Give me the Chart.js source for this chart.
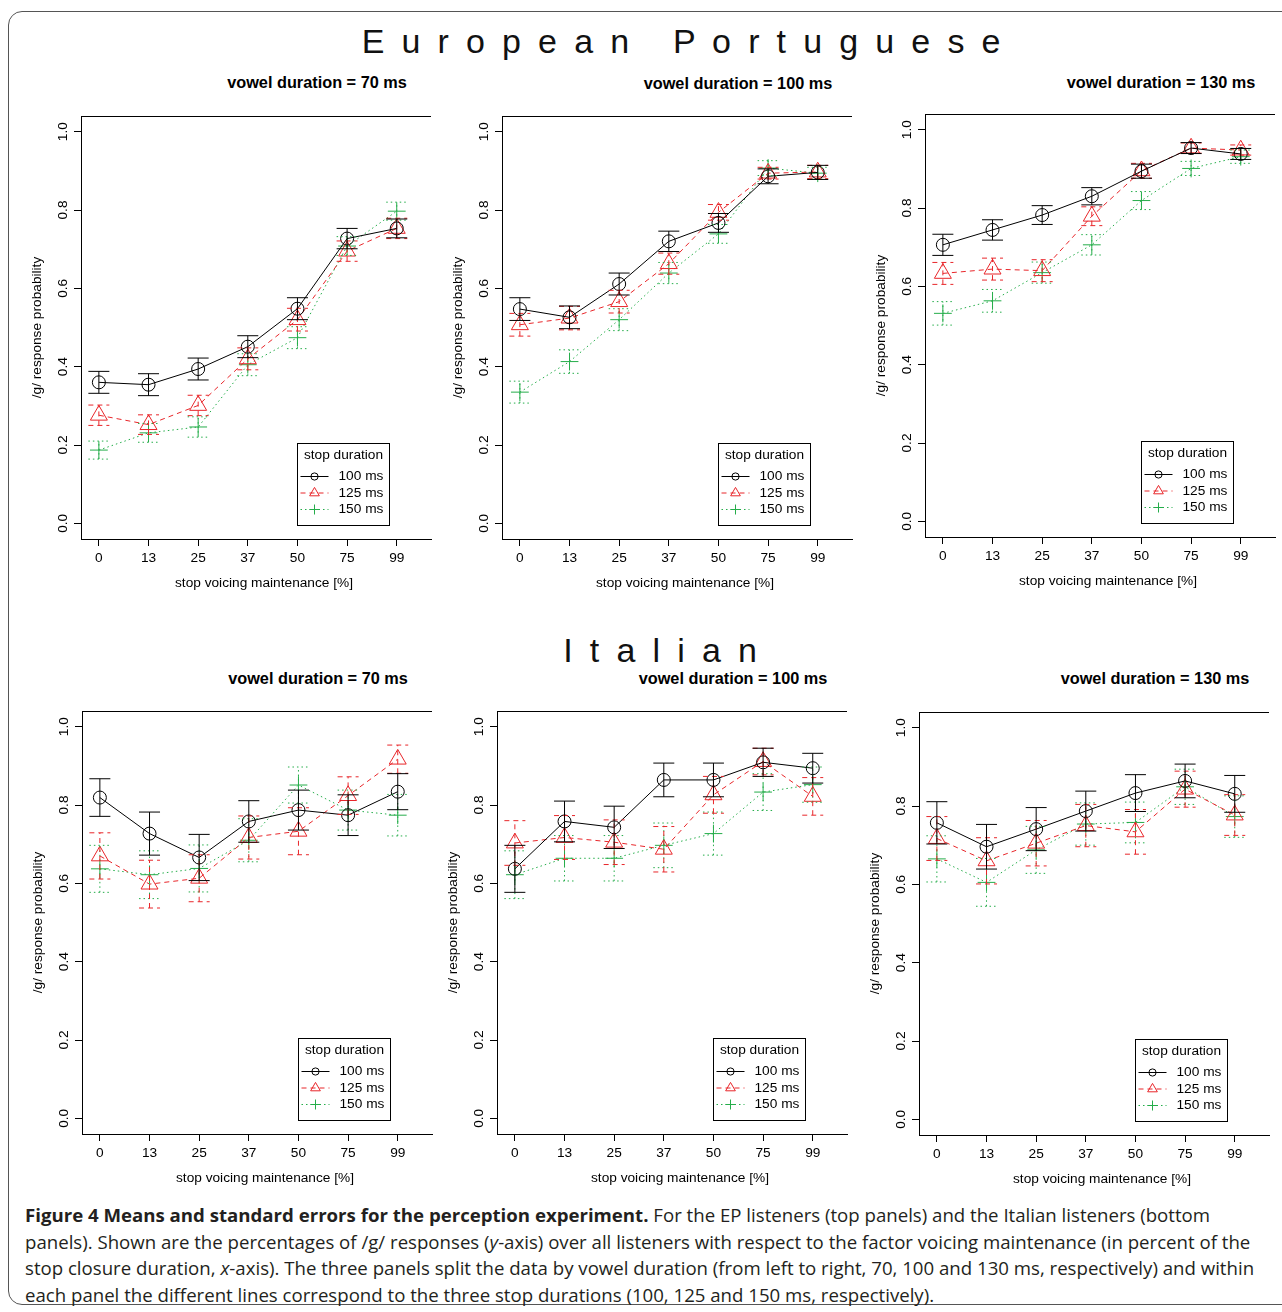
<!DOCTYPE html>
<html>
<head>
<meta charset="utf-8">
<script src="https://cdn.jsdelivr.net/npm/chart.js@4.4.1/dist/chart.umd.min.js"></script>
<style>
  body { margin: 0; background: #fff; }
  #fig { position: relative; width: 1282px; height: 1312px; overflow: hidden; background: #fff;
         font-family: "Liberation Sans", Arial, sans-serif; }
  #frame { position: absolute; left: 8px; top: 11px; width: 1300px; height: 1294px;
           border: 1.5px solid #555; border-radius: 14px; box-sizing: border-box; }
  .big { position: absolute; transform: translate(-50%, -50%); white-space: pre;
         font-family: "Liberation Sans Narrow", "Liberation Sans", sans-serif; font-size: 34px;
         letter-spacing: 3.85px; color: #111; }
  .pt { position: absolute; transform: translate(-50%, -50%); white-space: nowrap;
        font-weight: bold; font-size: 16.3px; color: #000; }
  canvas { position: absolute; }
  #cap { position: absolute; left: 25px; top: 1202px; width: 1250px; white-space: nowrap;
         font-family: "Open Sans", "Noto Sans", sans-serif; font-size: 18.64px; line-height: 26.5px; color: #231f20; }
</style>
</head>
<body>
<div id="fig">
  <div id="frame"></div>
  <div class="big" style="left:683px;top:41px;">E u r o p e a n   P o r t u g u e s e</div>
  <div class="big" style="left:662px;top:650px;">I t a l i a n</div>
  <div class="pt" style="left:317px;top:82px;">vowel duration = 70 ms</div>
  <div class="pt" style="left:738px;top:83px;">vowel duration = 100 ms</div>
  <div class="pt" style="left:1161px;top:82px;">vowel duration = 130 ms</div>
  <div class="pt" style="left:318px;top:678px;">vowel duration = 70 ms</div>
  <div class="pt" style="left:733px;top:678px;">vowel duration = 100 ms</div>
  <div class="pt" style="left:1155px;top:678px;">vowel duration = 130 ms</div>
  <canvas id="c1" width="432" height="489"></canvas>
  <canvas id="c2" width="432" height="489"></canvas>
  <canvas id="c3" width="432" height="489"></canvas>
  <canvas id="c4" width="432" height="489"></canvas>
  <canvas id="c5" width="432" height="489"></canvas>
  <canvas id="c6" width="432" height="489"></canvas>
  <div id="cap"><b>Figure 4 Means and standard errors for the perception experiment.</b> For the EP listeners (top panels) and the Italian listeners (bottom<br>panels). Shown are the percentages of /g/ responses (<i>y</i>-axis) over all listeners with respect to the factor voicing maintenance (in percent of the<br>stop closure duration, <i>x</i>-axis). The three panels split the data by vowel duration (from left to right, 70, 100 and 130 ms, respectively) and within<br>each panel the different lines correspond to the three stop durations (100, 125 and 150 ms, respectively).</div>
</div>
<script>
// ---------- data ----------
const voicingLabels = ["0", "13", "25", "37", "50", "75", "99"];
const yTickValues = [0.0, 0.2, 0.4, 0.6, 0.8, 1.0];
const stopDurations = ["100 ms", "125 ms", "150 ms"];

// European Portuguese, vowel 70 ms
const ep70_s100 = [0.360, 0.354, 0.394, 0.451, 0.548, 0.727, 0.753];
const ep70_s100_se = [0.028, 0.028, 0.028, 0.028, 0.028, 0.026, 0.024];
const ep70_s125 = [0.276, 0.252, 0.301, 0.420, 0.520, 0.695, 0.753];
const ep70_s125_se = [0.026, 0.025, 0.026, 0.028, 0.029, 0.026, 0.026];
const ep70_s150 = [0.187, 0.231, 0.246, 0.405, 0.474, 0.708, 0.797];
const ep70_s150_se = [0.023, 0.024, 0.026, 0.028, 0.028, 0.024, 0.023];

// European Portuguese, vowel 100 ms
const ep100_s100 = [0.547, 0.526, 0.611, 0.720, 0.767, 0.886, 0.896];
const ep100_s100_se = [0.029, 0.029, 0.028, 0.026, 0.024, 0.019, 0.018];
const ep100_s125 = [0.507, 0.524, 0.566, 0.663, 0.794, 0.894, 0.897];
const ep100_s125_se = [0.029, 0.030, 0.029, 0.027, 0.020, 0.015, 0.017];
const ep100_s150 = [0.335, 0.413, 0.520, 0.639, 0.739, 0.907, 0.894];
const ep100_s150_se = [0.028, 0.030, 0.028, 0.027, 0.024, 0.019, 0.015];

// European Portuguese, vowel 130 ms
const ep130_s100 = [0.706, 0.744, 0.782, 0.830, 0.894, 0.953, 0.938];
const ep130_s100_se = [0.027, 0.026, 0.024, 0.022, 0.018, 0.014, 0.014];
const ep130_s125 = [0.633, 0.644, 0.640, 0.779, 0.895, 0.953, 0.948];
const ep130_s125_se = [0.028, 0.028, 0.028, 0.024, 0.019, 0.013, 0.013];
const ep130_s150 = [0.531, 0.563, 0.635, 0.706, 0.819, 0.901, 0.931];
const ep130_s150_se = [0.030, 0.029, 0.027, 0.026, 0.023, 0.018, 0.017];

// Italian, vowel 70 ms
const it70_s100 = [0.819, 0.727, 0.666, 0.758, 0.787, 0.774, 0.834];
const it70_s100_se = [0.048, 0.055, 0.059, 0.053, 0.051, 0.052, 0.046];
const it70_s125 = [0.670, 0.598, 0.613, 0.717, 0.733, 0.824, 0.917];
const it70_s125_se = [0.059, 0.061, 0.060, 0.055, 0.060, 0.048, 0.036];
const it70_s150 = [0.637, 0.622, 0.638, 0.710, 0.851, 0.787, 0.774];
const it70_s150_se = [0.060, 0.061, 0.060, 0.055, 0.046, 0.051, 0.053];

// Italian, vowel 100 ms
const it100_s100 = [0.637, 0.758, 0.743, 0.864, 0.864, 0.909, 0.894];
const it100_s100_se = [0.060, 0.052, 0.054, 0.043, 0.043, 0.036, 0.038];
const it100_s125 = [0.703, 0.717, 0.705, 0.687, 0.826, 0.911, 0.822];
const it100_s125_se = [0.057, 0.056, 0.057, 0.058, 0.047, 0.034, 0.048];
const it100_s150 = [0.622, 0.664, 0.664, 0.697, 0.727, 0.833, 0.852];
const it100_s150_se = [0.061, 0.058, 0.058, 0.057, 0.055, 0.047, 0.045];

// Italian, vowel 130 ms
const it130_s100 = [0.757, 0.696, 0.741, 0.787, 0.833, 0.864, 0.831];
const it130_s100_se = [0.054, 0.057, 0.055, 0.051, 0.047, 0.043, 0.047];
const it130_s125 = [0.717, 0.660, 0.705, 0.750, 0.734, 0.843, 0.777];
const it130_s125_se = [0.056, 0.059, 0.058, 0.054, 0.057, 0.046, 0.052];
const it130_s150 = [0.665, 0.605, 0.688, 0.754, 0.758, 0.849, 0.773];
const it130_s150_se = [0.059, 0.061, 0.060, 0.054, 0.052, 0.045, 0.053];

// ---------- styling / layout ----------
const FONT = '"Liberation Sans", Arial, sans-serif';
const FS = 13.7;
const COLORS = ['#000000', '#e8262a', '#25ad4a'];
const DASHES = [[], [5, 4], [1.5, 3]];
const STYLES = ['circle', 'triangle', 'cross'];
const RADII = [6.5, 9.8, 8.9];
const LEG_RADII = [3.6, 5.6, 5.0];
const PAD_L = 70, PAD_T = 6, PAD_R = 12, AXIS_H = 60;
const X_TITLE = 'stop voicing maintenance [%]';

const panels = [
  { id: 'c1', left: 81, top: 116, s: [ep70_s100, ep70_s125, ep70_s150], e: [ep70_s100_se, ep70_s125_se, ep70_s150_se] },
  { id: 'c2', left: 502, top: 116, s: [ep100_s100, ep100_s125, ep100_s150], e: [ep100_s100_se, ep100_s125_se, ep100_s150_se] },
  { id: 'c3', left: 925, top: 114, s: [ep130_s100, ep130_s125, ep130_s150], e: [ep130_s100_se, ep130_s125_se, ep130_s150_se] },
  { id: 'c4', left: 82, top: 711, s: [it70_s100, it70_s125, it70_s150], e: [it70_s100_se, it70_s125_se, it70_s150_se] },
  { id: 'c5', left: 497, top: 711, s: [it100_s100, it100_s125, it100_s150], e: [it100_s100_se, it100_s125_se, it100_s150_se] },
  { id: 'c6', left: 919, top: 712, s: [it130_s100, it130_s125, it130_s150], e: [it130_s100_se, it130_s125_se, it130_s150_se] }
];

const errorBars = {
  id: 'errorBars',
  afterDatasetsDraw(chart) {
    const ctx = chart.ctx, xs = chart.scales.x, ys = chart.scales.y;
    for (let d = chart.data.datasets.length - 1; d >= 0; d--) {
      const ds = chart.data.datasets[d];
      ctx.save();
      ctx.strokeStyle = ds.borderColor;
      ctx.lineWidth = 1;
      ctx.setLineDash(ds.borderDash || []);
      ds.data.forEach((p, i) => {
        const err = ds.errors[i];
        const x = xs.getPixelForValue(p.x);
        const y1 = ys.getPixelForValue(p.y - err);
        const y2 = ys.getPixelForValue(p.y + err);
        ctx.beginPath();
        ctx.moveTo(x, y1); ctx.lineTo(x, y2);
        ctx.moveTo(x - 10.5, y1); ctx.lineTo(x + 10.5, y1);
        ctx.moveTo(x - 10.5, y2); ctx.lineTo(x + 10.5, y2);
        ctx.stroke();
      });
      ctx.restore();
    }
  }
};

const frameAndLegend = {
  id: 'frameAndLegend',
  afterDraw(chart) {
    const ctx = chart.ctx, a = chart.chartArea, ys = chart.scales.y;
    ctx.save();
    // top line of the "C" shaped box
    ctx.strokeStyle = '#000'; ctx.lineWidth = 1; ctx.setLineDash([]);
    ctx.beginPath(); ctx.moveTo(a.left, Math.round(a.top) + 0.5); ctx.lineTo(a.right, Math.round(a.top) + 0.5); ctx.stroke();
    // rotated y tick labels (R style, parallel to axis)
    ctx.fillStyle = '#000'; ctx.font = FS + 'px ' + FONT;
    ctx.textAlign = 'center'; ctx.textBaseline = 'middle';
    ys.ticks.forEach(t => {
      const y = ys.getPixelForValue(t.value);
      ctx.save(); ctx.translate(a.left - 18, y); ctx.rotate(-Math.PI / 2);
      ctx.fillText(t.value.toFixed(1), 0, 0); ctx.restore();
    });
    // x axis title (R mtext position)
    ctx.fillText(X_TITLE, (a.left + a.right) / 2 + 8, a.bottom + 44);
    // legend
    const lx = Math.round(a.left + 216) + 0.5, ly = Math.round(a.top + 327) + 0.5, w = 92, h = 82;
    ctx.strokeStyle = '#000'; ctx.strokeRect(lx, ly, w, h);
    ctx.fillText('stop duration', lx + w / 2, ly + 12);
    chart.data.datasets.forEach((ds, i) => {
      const y = ly + 33 + i * 16.5;
      ctx.save();
      ctx.strokeStyle = ds.borderColor; ctx.lineWidth = 1; ctx.setLineDash(ds.borderDash || []);
      ctx.beginPath(); ctx.moveTo(lx + 3, y); ctx.lineTo(lx + 31, y); ctx.stroke();
      ctx.setLineDash([]);
      ctx.fillStyle = 'rgba(0,0,0,0)';
      Chart.helpers.drawPoint(ctx, { pointStyle: ds.pointStyle, radius: LEG_RADII[i], rotation: 0, borderWidth: 1 }, lx + 17, y);
      ctx.restore();
      ctx.fillStyle = '#000'; ctx.textAlign = 'left';
      ctx.fillText(ds.label, lx + 41, y);
    });
    ctx.restore();
  }
};

panels.forEach(p => {
  const el = document.getElementById(p.id);
  el.style.left = (p.left - PAD_L) + 'px';
  el.style.top = (p.top - PAD_T) + 'px';
  new Chart(el, {
    type: 'line',
    data: {
      datasets: stopDurations.map((lab, k) => ({
        label: lab,
        data: p.s[k].map((v, i) => ({ x: i, y: v })),
        errors: p.e[k],
        borderColor: COLORS[k], borderWidth: 1, borderDash: DASHES[k],
        fill: false, tension: 0,
        pointStyle: STYLES[k], pointRadius: RADII[k], pointHoverRadius: RADII[k],
        pointBorderColor: COLORS[k], pointBackgroundColor: 'rgba(0,0,0,0)', pointBorderWidth: 1
      }))
    },
    options: {
      responsive: false, animation: false, devicePixelRatio: 1, events: [],
      layout: { autoPadding: false, padding: { left: 0, top: PAD_T, right: PAD_R, bottom: 0 } },
      plugins: { legend: { display: false }, tooltip: { enabled: false }, title: { display: false } },
      scales: {
        x: {
          type: 'linear', min: -0.36, max: 6.69,
          afterBuildTicks(s) { s.ticks = voicingLabels.map((_, i) => ({ value: i })); },
          afterFit(s) { s.height = AXIS_H; },
          ticks: { callback: v => voicingLabels[v], color: '#000', font: { family: FONT, size: FS }, padding: 4, autoSkip: false, maxRotation: 0 },
          grid: { drawOnChartArea: false, drawTicks: true, tickLength: 7, color: '#000', lineWidth: 1 },
          border: { display: true, color: '#000', width: 1 },
          title: { display: false }
        },
        y: {
          type: 'linear', min: -0.04, max: 1.04,
          afterBuildTicks(s) { s.ticks = yTickValues.map(v => ({ value: v })); },
          afterFit(s) { s.width = PAD_L; },
          ticks: { display: false },
          grid: { drawOnChartArea: false, drawTicks: true, tickLength: 7, color: '#000', lineWidth: 1 },
          border: { display: true, color: '#000', width: 1 },
          title: { display: true, text: '/g/ response probability', color: '#000', font: { family: FONT, size: FS, lineHeight: 1.2 }, padding: { top: 17.8, bottom: 0 } }
        }
      }
    },
    plugins: [errorBars, frameAndLegend]
  });
});
</script>
</body>
</html>
